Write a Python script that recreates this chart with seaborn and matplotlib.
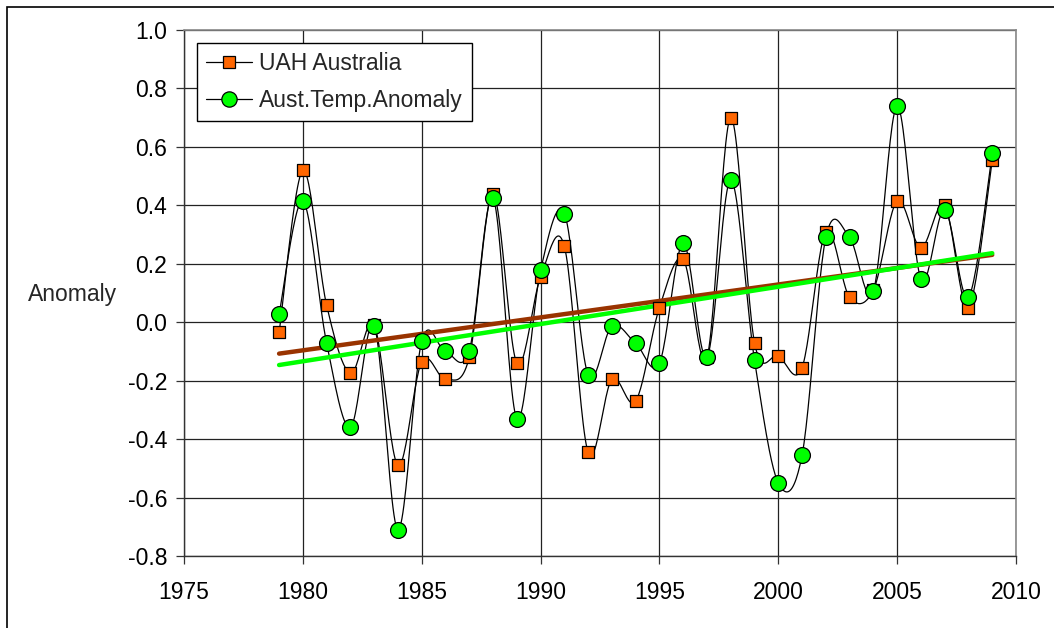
import numpy as np
import pandas as pd
import seaborn as sns
import matplotlib.pyplot as plt
from matplotlib.lines import Line2D
from matplotlib.patches import Rectangle

years = list(range(1979, 2010))
uah_australia = [-0.035, 0.52, 0.058, -0.175, -0.01, -0.49, -0.135, -0.195, -0.12, 0.44,
                 -0.14, 0.155, 0.26, -0.445, -0.195, -0.27, 0.05, 0.215, -0.12, 0.70,
                 -0.07, -0.115, -0.155, 0.31, 0.085, 0.11, 0.415, 0.255, 0.40, 0.05, 0.555]
aust_temp_anomaly = [0.027, 0.415, -0.072, -0.36, -0.013, -0.71, -0.065, -0.10, -0.097, 0.425,
                     -0.33, 0.178, 0.372, -0.18, -0.013, -0.072, -0.14, 0.27, -0.12, 0.487,
                     -0.13, -0.55, -0.455, 0.29, 0.29, 0.108, 0.74, 0.148, 0.385, 0.085, 0.578]
series_names = ["UAH Australia", "Aust.Temp.Anomaly"]
x_ticks = [1975, 1980, 1985, 1990, 1995, 2000, 2005, 2010]
y_ticks = [-0.8, -0.6, -0.4, -0.2, 0.0, 0.2, 0.4, 0.6, 0.8, 1.0]

df = pd.DataFrame({"year": years, "uah": uah_australia, "aust": aust_temp_anomaly})


def smooth(x, y, n=24):
    # excel style smoothed line (catmull-rom through the points)
    x = np.asarray(x, float)
    y = np.asarray(y, float)
    px = np.concatenate([[x[0]], x, [x[-1]]])
    py = np.concatenate([[y[0]], y, [y[-1]]])
    out_x, out_y = [], []
    t = np.linspace(0, 1, n, endpoint=False)
    for i in range(1, len(px) - 2):
        p0, p1, p2, p3 = px[i - 1], px[i], px[i + 1], px[i + 2]
        q0, q1, q2, q3 = py[i - 1], py[i], py[i + 1], py[i + 2]
        c1x, c1y = p1 + (p2 - p0) / 6, q1 + (q2 - q0) / 6
        c2x, c2y = p2 - (p3 - p1) / 6, q2 - (q3 - q1) / 6
        bx = (1 - t) ** 3 * p1 + 3 * (1 - t) ** 2 * t * c1x + 3 * (1 - t) * t ** 2 * c2x + t ** 3 * p2
        by = (1 - t) ** 3 * q1 + 3 * (1 - t) ** 2 * t * c1y + 3 * (1 - t) * t ** 2 * c2y + t ** 3 * q2
        out_x.extend(bx)
        out_y.extend(by)
    out_x.append(x[-1])
    out_y.append(y[-1])
    return np.array(out_x), np.array(out_y)


sns.set_style("white")
plt.rcParams['font.family'] = ['Liberation Sans', 'DejaVu Sans']

fig = plt.figure(figsize=(10.54, 6.28), dpi=100)
ax = fig.add_axes([184 / 1054, 1 - 556 / 628, (1016 - 184) / 1054, (556 - 30) / 628])

orange = "#FF6600"
green = "#00FF00"
brown = "#993300"

# smoothed black connecting lines
for col in ["uah", "aust"]:
    sx, sy = smooth(df["year"], df[col])
    sns.lineplot(x=sx, y=sy, sort=False, color="black", linewidth=0.9, ax=ax, zorder=3)

# linear trend lines
sns.regplot(data=df, x="year", y="uah", scatter=False, ci=None, ax=ax,
            line_kws=dict(color=brown, linewidth=3.2, zorder=4))
sns.regplot(data=df, x="year", y="aust", scatter=False, ci=None, ax=ax,
            line_kws=dict(color=green, linewidth=3.2, zorder=4))

sns.scatterplot(data=df, x="year", y="uah", marker="s", s=80, color=orange,
                edgecolor="black", linewidth=0.9, ax=ax, zorder=5)
sns.scatterplot(data=df, x="year", y="aust", marker="o", s=130, color=green,
                edgecolor="black", linewidth=0.9, ax=ax, zorder=6)

ax.set_xlim(1975, 2010)
ax.set_ylim(-0.8, 1.0)
ax.set_xticks(x_ticks)
ax.set_yticks(y_ticks)
ax.set_yticklabels([f"{v:.1f}" for v in y_ticks])
ax.set_xlabel("")
ax.set_ylabel("")
ax.grid(True, color="#222222", linewidth=0.9)
ax.set_axisbelow(True)
ax.tick_params(axis="both", direction="out", length=6, width=0.9, color="#333333",
               labelsize=16.5, pad=6, labelcolor="black", left=True, bottom=True)
ax.tick_params(axis="x", pad=12)
for side in ["top", "right"]:
    ax.spines[side].set_color("#888888")
    ax.spines[side].set_linewidth(1.2)
for side in ["left", "bottom"]:
    ax.spines[side].set_color("#333333")
    ax.spines[side].set_linewidth(1.0)

handles = [
    Line2D([0], [0], color="black", linewidth=0.9, marker="s", markersize=8.5,
           markerfacecolor=orange, markeredgecolor="black", markeredgewidth=0.9),
    Line2D([0], [0], color="black", linewidth=0.9, marker="o", markersize=11,
           markerfacecolor=green, markeredgecolor="black", markeredgewidth=0.9),
]
leg = ax.legend(handles, series_names, loc="upper left", bbox_to_anchor=(13 / 832, 513 / 526),
                borderaxespad=0, fontsize=16.5, frameon=True, fancybox=False,
                handlelength=2.0, handletextpad=0.3, borderpad=0.4, labelspacing=0.6)
leg.get_frame().set_edgecolor("black")
leg.get_frame().set_linewidth(1.0)
leg.get_frame().set_facecolor("white")
leg.get_frame().set_alpha(1)
leg.set_zorder(10)

fig.text(73 / 1054, 1 - 294 / 628, "Anomaly", fontsize=16.5, ha="center", va="center")

# chart area border (left and top visible)
fig.add_artist(Rectangle((7 / 1054, -0.2), 1.2, 1 - 7 / 628 + 0.2, transform=fig.transFigure,
                         fill=False, edgecolor="black", linewidth=1.2))

fig.savefig("out.png", dpi=100)
